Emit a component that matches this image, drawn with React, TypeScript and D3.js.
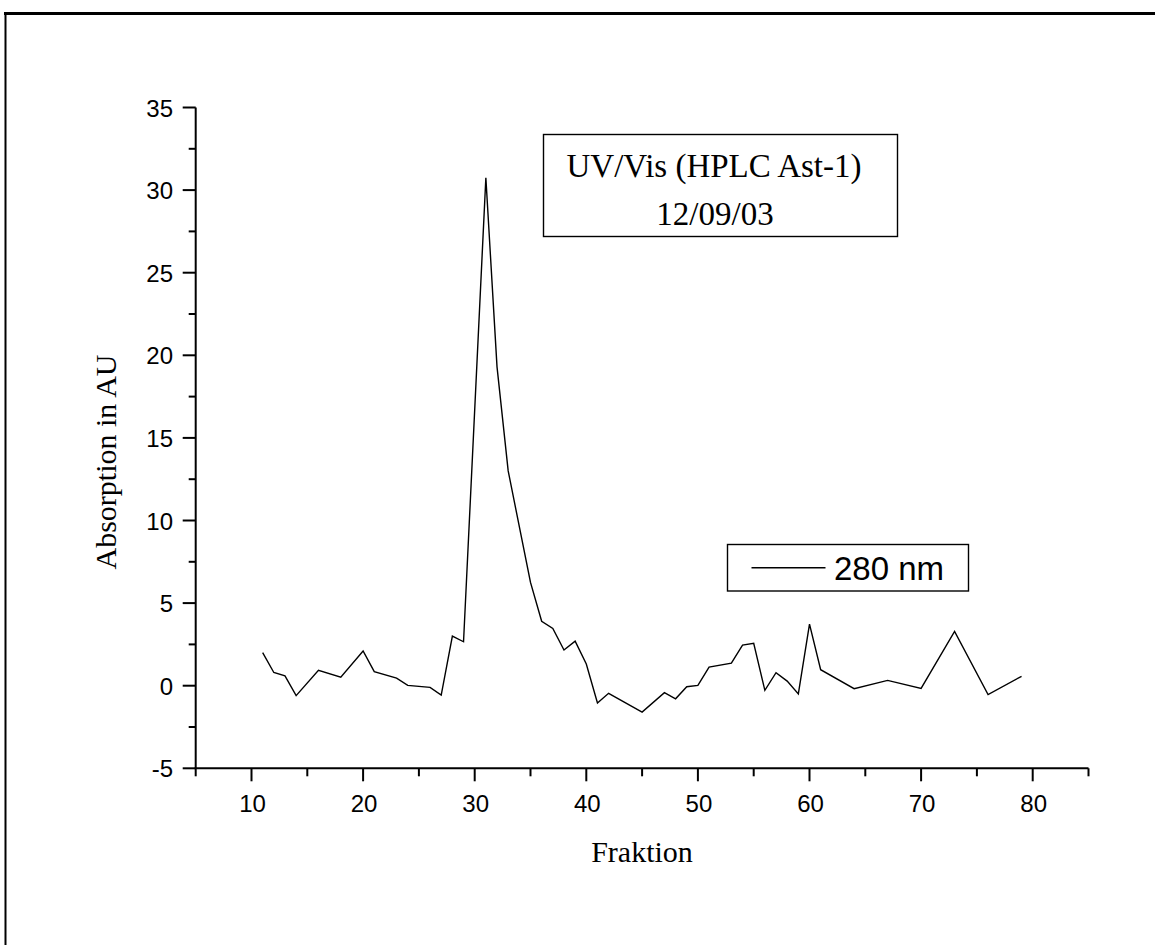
import React from "react";
import * as d3 from "d3";

const fractions = [11, 12, 13, 14, 16, 18, 20, 21, 23, 24, 26, 27, 28, 29, 31, 32, 33, 35, 36, 37, 38, 39, 40, 41, 42, 45, 47, 48, 49, 50, 51, 53, 54, 55, 56, 57, 58, 59, 60, 61, 64, 67, 70, 73, 76, 79];
const absorption = [2.0, 0.8, 0.6, -0.6, 0.93, 0.52, 2.1, 0.85, 0.46, 0.02, -0.1, -0.57, 3.0, 2.66, 30.75, 19.3, 13.0, 6.25, 3.9, 3.47, 2.16, 2.7, 1.31, -1.05, -0.46, -1.6, -0.42, -0.79, -0.06, 0.02, 1.13, 1.37, 2.46, 2.56, -0.28, 0.79, 0.28, -0.5, 3.73, 0.97, -0.18, 0.32, -0.16, 3.29, -0.54, 0.57];
const xMajorTicks = [10, 20, 30, 40, 50, 60, 70, 80];
const xMinorTicks = [5, 15, 25, 35, 45, 55, 65, 75, 85];
const yMajorTicks = [-5, 0, 5, 10, 15, 20, 25, 30, 35];
const yMinorTicks = [-2.5, 2.5, 7.5, 12.5, 17.5, 22.5, 27.5, 32.5];
const titleLines = ["UV/Vis (HPLC Ast-1)", "12/09/03"];
const legendLabel = "280 nm";
const xTitle = "Fraktion";
const yTitle = "Absorption in AU";

export default function App() {
  const W = 1155, H = 945;
  const x = d3.scaleLinear().domain([5, 85]).range([195.7, 1088.5]);
  const y = d3.scaleLinear().domain([-5, 35]).range([768.3, 107.5]);
  const data = fractions.map((f, i) => [f, absorption[i]] as [number, number]);
  const line = d3.line<[number, number]>().x(d => x(d[0])).y(d => y(d[1]));
  const sans = "'Liberation Sans', Arial, sans-serif";
  const serif = "'Liberation Serif', 'Times New Roman', serif";
  const x0 = x(5), yb = y(-5);
  return (
    <div style={{ position: "absolute", left: 0, top: 0 }}>
      <svg width={W} height={H} style={{ display: "block", background: "#fff" }}>
        <rect x={0} y={0} width={W} height={H} fill="#fff" />
        {/* frame */}
        <line x1={4} x2={W} y1={13.5} y2={13.5} stroke="#000" strokeWidth={3} />
        <line x1={5.5} x2={5.5} y1={12} y2={H} stroke="#000" strokeWidth={2} />
        {/* axes */}
        <line x1={x0} x2={x0} y1={y(35)} y2={yb} stroke="#000" strokeWidth={2} />
        <line x1={x0 - 1} x2={x(85)} y1={yb} y2={yb} stroke="#000" strokeWidth={2} />
        {yMajorTicks.map(t => (
          <g key={"ym" + t}>
            <line x1={x0 - 13} x2={x0} y1={y(t)} y2={y(t)} stroke="#000" strokeWidth={2} />
            <text x={173} y={y(t) + 9} textAnchor="end" fontFamily={sans} fontSize={24}>{t}</text>
          </g>
        ))}
        {yMinorTicks.map(t => (
          <line key={"yn" + t} x1={x0 - 7} x2={x0} y1={y(t)} y2={y(t)} stroke="#000" strokeWidth={2} />
        ))}
        {xMajorTicks.map(t => (
          <g key={"xm" + t}>
            <line x1={x(t)} x2={x(t)} y1={yb} y2={yb + 13} stroke="#000" strokeWidth={2} />
            <text x={x(t) + 1} y={811.5} textAnchor="middle" fontFamily={sans} fontSize={24}>{t}</text>
          </g>
        ))}
        {xMinorTicks.map(t => (
          <line key={"xn" + t} x1={x(t)} x2={x(t)} y1={yb} y2={yb + 8} stroke="#000" strokeWidth={2} />
        ))}
        {/* axis titles */}
        <text x={642} y={862} textAnchor="middle" fontFamily={serif} fontSize={30}>{xTitle}</text>
        <text transform={`translate(116,462) rotate(-90)`} textAnchor="middle" fontFamily={serif} fontSize={30}>{yTitle}</text>
        {/* data */}
        <path d={line(data) || ""} fill="none" stroke="#000" strokeWidth={1.4} strokeLinejoin="miter" />
        {/* title box */}
        <rect x={543.5} y={134.5} width={354} height={102} fill="#fff" stroke="#000" strokeWidth={1.4} />
        <text x={714} y={177} textAnchor="middle" fontFamily={serif} fontSize={33}>{titleLines[0]}</text>
        <text x={715} y={225} textAnchor="middle" fontFamily={serif} fontSize={33}>{titleLines[1]}</text>
        {/* legend */}
        <rect x={727.5} y={544.5} width={241} height={46.5} fill="#fff" stroke="#000" strokeWidth={1.4} />
        <line x1={751.5} x2={825.5} y1={567.7} y2={567.7} stroke="#000" strokeWidth={1.4} />
        <text x={834} y={579.5} fontFamily={sans} fontSize={33}>{legendLabel}</text>
      </svg>
    </div>
  );
}
